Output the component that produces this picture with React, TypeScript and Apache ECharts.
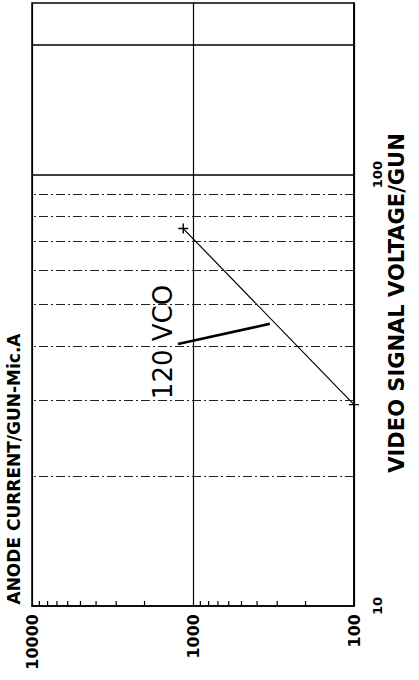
import React, { useEffect, useRef } from "react";
import * as echarts from "echarts";

// Anode current (µA) on the horizontal axis, video signal voltage (V) on the vertical axis
const CURRENT_TICKS = [100, 1000, 10000];
const VOLTAGE_MIN = 10;
const VOLTAGE_MAX = 250;
const CURRENT_MIN = 100;
const CURRENT_MAX = 10000;

// the 120 VCO characteristic line (end points, marked with "+")
const LINE_CURRENT = [1150, 100];
const LINE_VOLTAGE = [75, 29.3];

// horizontal grid lines of the voltage axis
const DASHED_GRID_VOLTAGE = [20, 30, 40, 50, 60, 70, 80, 90];
const SOLID_GRID_VOLTAGE = [100, 200];

// minor ticks along the current axis
const MINOR_TICKS = [200, 300, 400, 500, 600, 700, 800, 900, 2000, 3000, 4000, 5000, 6000, 7000, 8000, 9000];

// annotation pointer (from label to curve), in data units
const POINTER_CURRENT = [1240, 333];
const POINTER_VOLTAGE = [40.5, 45.1];

const ANNOTATION = "120 VCO";
const X_TITLE = "ANODE CURRENT/GUN-Mic.A";
const Y_TITLE = "VIDEO SIGNAL VOLTAGE/GUN";

const FONT = "'DejaVu Sans', Arial, sans-serif";
const PLUS = "path://M4.3,0H5.7V4.3H10V5.7H5.7V10H4.3V5.7H0V4.3H4.3Z";

export default function App() {
  const ref = useRef<HTMLDivElement>(null);
  useEffect(() => {
    if (!ref.current) return;
    const chart = echarts.init(ref.current, null, { renderer: "svg" });
    const lineData = LINE_CURRENT.map((c, i) => [c, LINE_VOLTAGE[i]]);
    chart.setOption({
      animation: false,
      backgroundColor: "#fff",
      grid: {
        left: 32,
        right: 65,
        top: 3,
        bottom: 74,
        show: true,
        borderColor: "#000",
        borderWidth: 1.5,
        backgroundColor: "transparent",
      },
      xAxis: {
        type: "log",
        logBase: 10,
        min: CURRENT_MIN,
        max: CURRENT_MAX,
        inverse: true,
        position: "bottom",
        axisLine: { show: true, lineStyle: { color: "#000", width: 1.5 } },
        axisTick: { show: false },
        axisLabel: {
          rotate: 90,
          margin: 8,
          color: "#000",
          fontFamily: FONT,
          fontWeight: "bold",
          fontSize: 16,
          showMinLabel: true,
          showMaxLabel: true,
          formatter: (v: number) =>
            CURRENT_TICKS.includes(Math.round(v)) ? String(Math.round(v)) : "",
        },
        splitLine: { show: true, lineStyle: { color: "#000", width: 1.2 } },
      },
      yAxis: {
        type: "log",
        logBase: 10,
        min: VOLTAGE_MIN,
        max: VOLTAGE_MAX,
        position: "right",
        axisLine: { show: true, lineStyle: { color: "#000", width: 1.5 } },
        axisTick: { show: false },
        axisLabel: {
          rotate: 90,
          margin: 17,
          color: "#000",
          fontFamily: FONT,
          fontWeight: "bold",
          fontSize: 13,
          formatter: (v: number) => {
            const r = Math.round(v);
            return r === 10 || r === 100 ? String(r) : "";
          },
        },
        splitLine: { show: false },
      },
      graphic: [
        {
          type: "text",
          x: 14,
          y: 469,
          rotation: Math.PI / 2,
          style: {
            text: X_TITLE,
            fontFamily: FONT,
            fontWeight: "bold",
            fontSize: 17,
            fill: "#000",
            textAlign: "center",
            textVerticalAlign: "middle",
          },
        },
        {
          type: "text",
          x: 397,
          y: 303,
          rotation: Math.PI / 2,
          style: {
            text: Y_TITLE,
            fontFamily: FONT,
            fontWeight: "bold",
            fontSize: 21,
            fill: "#000",
            textAlign: "center",
            textVerticalAlign: "middle",
          },
        },
        {
          type: "text",
          x: 163,
          y: 342,
          rotation: Math.PI / 2,
          style: {
            text: ANNOTATION,
            fontFamily: FONT,
            fontSize: 26,
            fill: "#000",
            textAlign: "center",
            textVerticalAlign: "middle",
          },
        },
      ],
      series: [
        {
          type: "line",
          data: lineData,
          symbol: PLUS,
          symbolSize: 10,
          showSymbol: true,
          itemStyle: { color: "#000" },
          lineStyle: { color: "#000", width: 1.2 },
          z: 5,
          markLine: {
            silent: true,
            symbol: "none",
            label: { show: false },
            data: [
              [
                { coord: [POINTER_CURRENT[0], POINTER_VOLTAGE[0]] },
                { coord: [POINTER_CURRENT[1], POINTER_VOLTAGE[1]] },
              ],
            ],
            lineStyle: { color: "#000", width: 2.6, type: "solid" },
          },
        },
        {
          type: "line",
          data: [],
          markLine: {
            silent: true,
            symbol: "none",
            label: { show: false },
            data: [
              ...DASHED_GRID_VOLTAGE.map((v) => ({
                yAxis: v,
                lineStyle: { color: "#222", width: 1.2, type: [9, 3, 2, 3] },
              })),
              ...SOLID_GRID_VOLTAGE.map((v) => ({
                yAxis: v,
                lineStyle: { color: "#000", width: 1.6, type: "solid" },
              })),
            ],
          },
        },
        {
          type: "custom",
          data: MINOR_TICKS.map((c) => [c, VOLTAGE_MIN]),
          renderItem: (_params: any, api: any) => {
            const p = api.coord([api.value(0), api.value(1)]);
            return {
              type: "line",
              shape: { x1: p[0], y1: p[1], x2: p[0], y2: p[1] - 5 },
              style: { stroke: "#000", lineWidth: 1.2 },
            };
          },
          silent: true,
          z: 6,
        },
      ],
    });
    return () => chart.dispose();
  }, []);
  return (
    <div
      ref={ref}
      style={{ position: "absolute", left: 0, top: 0, width: 419, height: 680, background: "#fff" }}
    />
  );
}
